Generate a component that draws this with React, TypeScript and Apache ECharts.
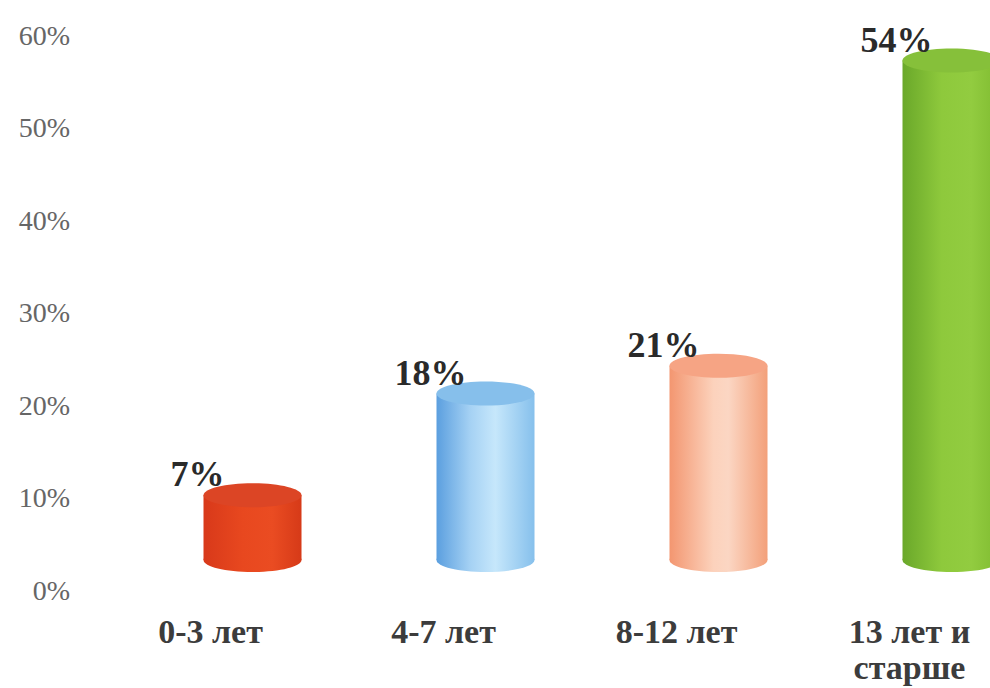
import React, { useEffect, useRef } from "react";
import * as echarts from "echarts";

const categories = ["0-3 лет", "4-7 лет", "8-12 лет", "13 лет и\nстарше"];
const values = [7, 18, 21, 54];
const yTicks = [0, 10, 20, 30, 40, 50, 60];

const SERIF = "'Liberation Serif', 'Times New Roman', serif";

const bodyStops = [
  [
    { offset: 0, color: "#d8391a" },
    { offset: 0.4, color: "#e8481f" },
    { offset: 0.7, color: "#ea4c22" },
    { offset: 1, color: "#d63a18" },
  ],
  [
    { offset: 0, color: "#5b9fdf" },
    { offset: 0.35, color: "#a6d2f4" },
    { offset: 0.6, color: "#c6e7fb" },
    { offset: 1, color: "#86c0ec" },
  ],
  [
    { offset: 0, color: "#f39670" },
    { offset: 0.45, color: "#fcd2bc" },
    { offset: 0.6, color: "#fbd6c3" },
    { offset: 1, color: "#f3a07a" },
  ],
  [
    { offset: 0, color: "#6aa82a" },
    { offset: 0.4, color: "#8ec93c" },
    { offset: 0.7, color: "#92cc40" },
    { offset: 1, color: "#7fbb30" },
  ],
];
const topColors = ["#dc4525", "#86bfeb", "#f6a484", "#86c03a"];

export default function App() {
  const ref = useRef<HTMLDivElement>(null);
  useEffect(() => {
    document.body.style.margin = "0";
    const chart = echarts.init(ref.current!, undefined, { renderer: "svg" });
    const option: any = {
      animation: false,
      backgroundColor: "#ffffff",
      grid: {
        left: 94,
        top: 35,
        width: 932,
        height: 555,
        containLabel: false,
        outerBoundsMode: "none",
      },
      xAxis: {
        type: "category",
        data: categories,
        axisLine: { show: false },
        axisTick: { show: false },
        axisLabel: {
          margin: 23,
          fontFamily: SERIF,
          fontWeight: "bold",
          fontSize: 34,
          color: "#3c3c3c",
          lineHeight: 36,
          verticalAlign: "top",
        },
      },
      yAxis: {
        type: "value",
        min: 0,
        max: 60,
        interval: 10,
        splitLine: { show: false },
        axisLine: { show: false },
        axisTick: { show: false },
        axisLabel: {
          margin: 24,
          fontFamily: SERIF,
          fontSize: 28,
          color: "#666666",
          formatter: (v: number) => (yTicks.includes(v) ? v + "%" : ""),
        },
      },
      series: [
        {
          type: "custom",
          data: values.map((v, i) => [i, v]),
          clip: false,
          renderItem: (params: any, api: any) => {
            const i = api.value(0);
            const v = api.value(1);
            const p0 = api.coord([i, 0]);
            const p1 = api.coord([i, v]);
            const depth = 30;
            const shiftX = 42;
            const cx = p0[0] + shiftX;
            const base = p0[1] - depth;
            const top = p1[1] - depth;
            const rx = 49;
            const ry = 12;
            const grad = new echarts.graphic.LinearGradient(0, 0, 1, 0, bodyStops[i]);
            return {
              type: "group",
              children: [
                {
                  type: "ellipse",
                  shape: { cx, cy: base, rx, ry },
                  style: { fill: grad },
                },
                {
                  type: "rect",
                  shape: { x: cx - rx, y: top, width: rx * 2, height: base - top },
                  style: { fill: grad },
                },
                {
                  type: "ellipse",
                  shape: { cx, cy: top, rx, ry },
                  style: { fill: topColors[i] },
                },
                {
                  type: "text",
                  style: {
                    text: v + "%",
                    x: cx - 55,
                    y: top - 21,
                    align: "center",
                    verticalAlign: "middle",
                    fontFamily: SERIF,
                    fontWeight: "bold",
                    fontSize: 36,
                    fill: "#2a2a2a",
                  },
                },
              ],
            };
          },
        },
      ],
    };
    chart.setOption(option);
    return () => chart.dispose();
  }, []);
  return <div ref={ref} style={{ width: 990, height: 688 }} />;
}
